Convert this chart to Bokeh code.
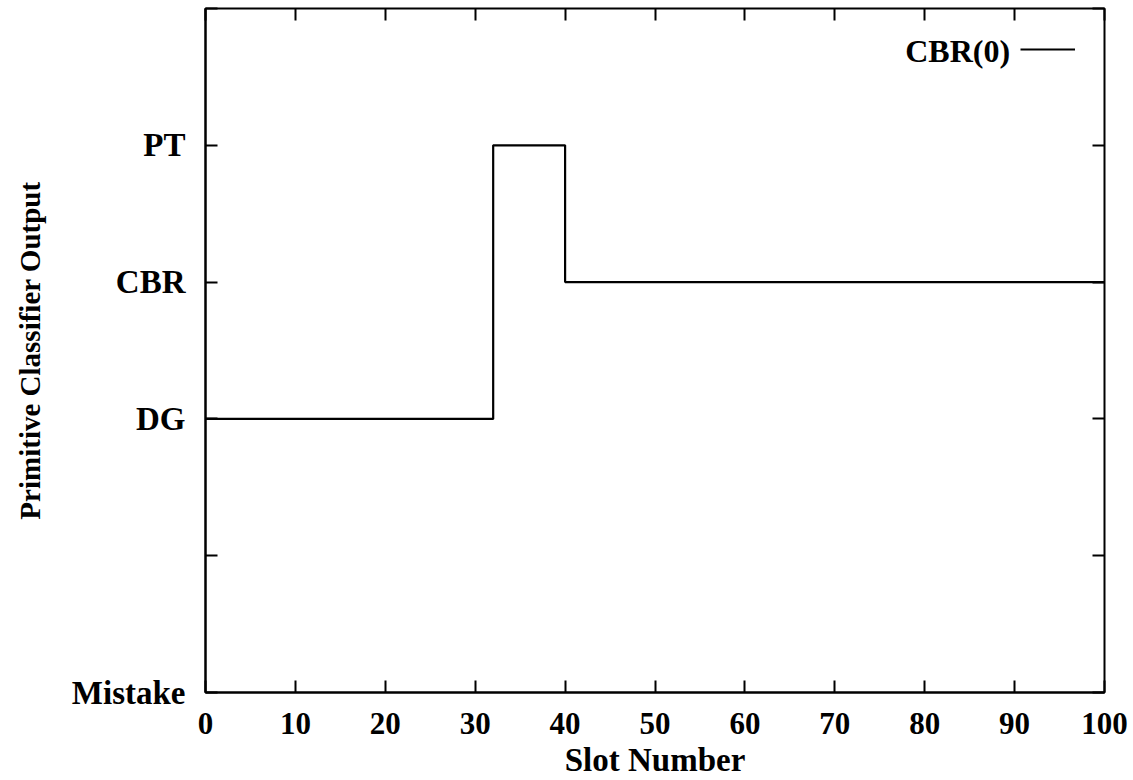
from bokeh.plotting import figure
from bokeh.models import (FixedTicker, LinearAxis, Legend, LegendItem, Label, Range1d)
from bokeh.embed import file_html
from bokeh.resources import INLINE

# ---- data ----
slots = [0, 32, 40, 100]
levels = [2, 4, 3, 3]          # 0=Mistake, 2=DG, 3=CBR, 4=PT
y_ticks = [0, 1, 2, 3, 4, 5]
y_tick_labels = ["Mistake", "", "DG", "CBR", "PT", ""]
x_ticks = [0, 10, 20, 30, 40, 50, 60, 70, 80, 90, 100]
series_name = "CBR(0)"

FONT = "Liberation Serif"

p = figure(width=1133, height=780, output_backend="svg", toolbar_location=None,
           x_range=Range1d(0, 100), y_range=Range1d(0, 5),
           min_border_left=205, min_border_right=29, min_border_top=8,
           min_border_bottom=87)
p.grid.visible = False
p.outline_line_color = "black"
p.outline_line_width = 2
p.background_fill_color = "white"
p.border_fill_color = "white"

r = p.step(slots, levels, mode="after", line_color="black", line_width=2.2)

# x axis
xa = p.xaxis[0]
xa.ticker = FixedTicker(ticks=x_ticks)
xa.major_tick_in = 12
xa.major_tick_out = 0
xa.minor_tick_line_color = None
xa.axis_line_width = 2
xa.major_tick_line_width = 2
xa.major_label_text_font = FONT
xa.major_label_text_font_size = "31px"
xa.major_label_text_font_style = "bold"
xa.major_label_text_color = "black"
xa.major_label_standoff = 20
xa.axis_label = "Slot Number"
xa.axis_label_text_font = FONT
xa.axis_label_text_font_size = "33px"
xa.axis_label_text_font_style = "bold"
xa.axis_label_text_color = "black"
xa.axis_label_standoff = 5

# y axis
ya = p.yaxis[0]
ya.ticker = FixedTicker(ticks=y_ticks)
ya.major_label_overrides = {t: l for t, l in zip(y_ticks, y_tick_labels)}
ya.major_tick_in = 12
ya.major_tick_out = 0
ya.minor_tick_line_color = None
ya.axis_line_width = 2
ya.major_tick_line_width = 2
ya.major_label_text_font = FONT
ya.major_label_text_font_size = "33px"
ya.major_label_text_font_style = "bold"
ya.major_label_text_color = "black"
ya.major_label_standoff = 20
ya.axis_label = "Primitive Classifier Output"
ya.axis_label_text_font = FONT
ya.axis_label_text_font_size = "29px"
ya.axis_label_text_font_style = "bold"
ya.axis_label_text_color = "black"
ya.axis_label_standoff = 23

# mirrored ticks (no labels)
ra = LinearAxis(ticker=FixedTicker(ticks=y_ticks), major_tick_in=12, major_tick_out=0,
                minor_tick_line_color=None, axis_line_color=None,
                major_tick_line_width=2,
                major_label_overrides={t: "" for t in y_ticks},
                major_label_standoff=0)
p.add_layout(ra, "right")
ta = LinearAxis(ticker=FixedTicker(ticks=x_ticks), major_tick_in=12, major_tick_out=0,
                minor_tick_line_color=None, axis_line_color=None,
                major_tick_line_width=2,
                major_label_overrides={t: "" for t in x_ticks},
                major_label_standoff=0)
p.add_layout(ta, "above")

# legend: text on the left, line sample on the right
lab = Label(x=89.5, y=4.69, text=series_name, text_align="right",
            text_baseline="middle", text_font=FONT, text_font_size="32px",
            text_font_style="bold", text_color="black")
p.add_layout(lab)
leg = Legend(items=[LegendItem(label="", renderers=[r])],
             location=(815, 633), glyph_width=55, glyph_height=20,
             label_width=0, label_standoff=0, padding=0, margin=0, spacing=0,
             border_line_color=None, background_fill_alpha=0)
p.add_layout(leg)

open("out.html", "w").write(file_html(p, INLINE))
